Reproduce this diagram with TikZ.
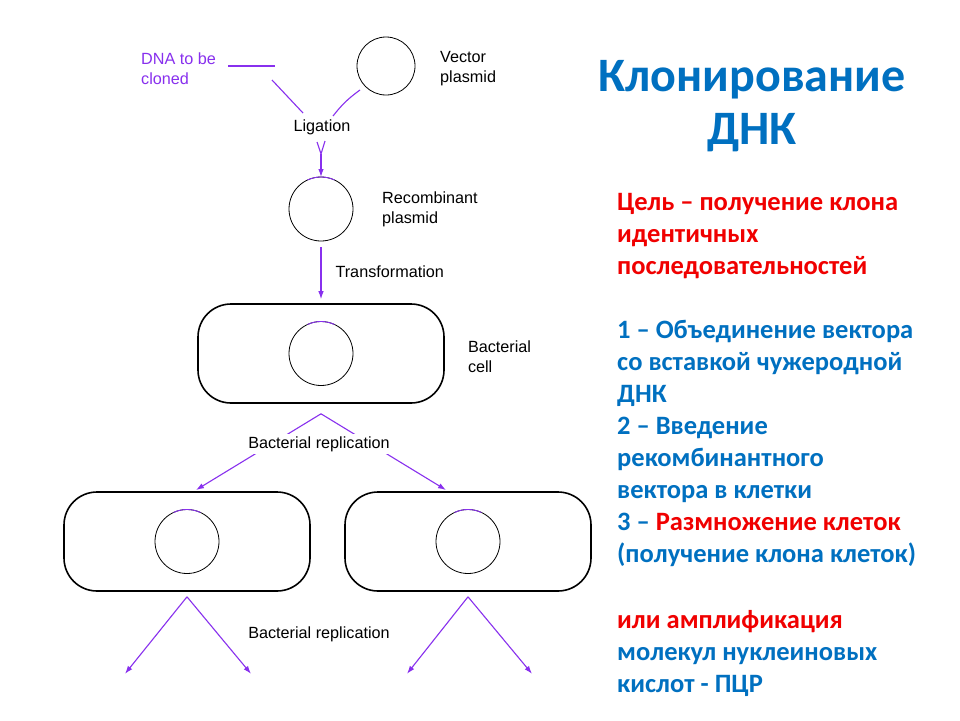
\documentclass[tikz,border=0pt]{standalone}
\usepackage{fontspec}
\setmainfont{Liberation Sans}
\newfontfamily\slidefont{Carlito}
\usepackage{xcolor}
\usetikzlibrary{shapes,arrows,positioning,calc,arrows.meta}

\definecolor{dnapurple}{RGB}{136,48,238}
\definecolor{slideblue}{RGB}{0,112,192}
\definecolor{slidered}{RGB}{240,0,0}

\begin{document}
\begin{tikzpicture}[x=1pt, y=1pt,
    plasmid/.style={circle, draw, line width=0.8pt, minimum size=64pt, inner sep=0pt, outer sep=0pt},
    cellbox/.style={rectangle, draw, line width=1.6pt, rounded corners=33pt, minimum width=246pt, minimum height=99pt},
    lbl/.style={font=\fontsize{16.2}{20}\selectfont, align=left, inner sep=2pt, text=black},
    link/.style={dnapurple, line width=1.1pt},
    arr/.style={dnapurple, line width=1.1pt, -{Latex[length=8pt,width=5.5pt]}},
    insert/.style={dnapurple, line width=0.9pt},
    slidetext/.style={font=\slidefont\bfseries\fontsize{26.5}{32}\selectfont, align=left, inner sep=0pt, text=slideblue}]
    \useasboundingbox (0,0) rectangle (960,-720);
    \fill[white] (0,0) rectangle (960,-720);
    \begin{scope}
        % Ligation step
        \node[lbl, text=dnapurple, anchor=west] (dna) at (139,-69) {DNA to be\\cloned};
        \coordinate (segL) at (228,-66);
        \coordinate (segR) at (275,-66);
        \node[plasmid, minimum size=58pt] (vector) at (386,-66) {};
        \node[lbl, right=23pt of vector, yshift=-3pt] (vectorlbl) {Vector\\plasmid};
        \node[lbl] (lig) at (322,-127) {Ligation};

        \coordinate (dnaout) at (272,-80);
        \coordinate (dnain) at (303,-113);
        \coordinate (vecout) at (360,-90);
        \coordinate (vecin) at (333,-116);
        \coordinate (ligL) at (317,-142);
        \coordinate (ligR) at (325,-141);
        \coordinate (ligJ) at (321,-154);

        \draw[link] (segL) -- (segR);
        \draw[link] (dnaout) -- (dnain);
        \draw[link] (vecout) to[bend right=8] (vecin);
        \draw[link] (ligL) -- (ligJ) -- (ligR);

        % Recombinant plasmid
        \node[plasmid] (recomb) at (321,-209) {};
        \draw[insert] (recomb.65) arc[start angle=65, end angle=115, radius=32pt];
        \node[lbl, right=27pt of recomb] (recomblbl) {Recombinant\\plasmid};
        \draw[arr] (ligJ) -- (recomb.north);

        % Transformation into the cell
        \node[cellbox] (cell) at (321,-353.5) {};
        \node[plasmid] (cellpl) at (cell.center) {};
        \draw[insert] (cellpl.65) arc[start angle=65, end angle=115, radius=32pt];
        \node[lbl, right=21pt of cell, yshift=-3pt] (celllbl) {Bacterial\\cell};
        \draw[arr, shorten <=6pt, shorten >=4pt] (recomb) -- (cell)
            node[midway, right=12pt, lbl] (transf) {Transformation};

        % First replication
        \node[cellbox] (left) at (187,-541.5) {};
        \node[cellbox] (right) at (468,-541.5) {};
        \node[plasmid] (leftpl) at (left.center) {};
        \node[plasmid] (rightpl) at (right.center) {};
        \draw[insert] (leftpl.65) arc[start angle=65, end angle=115, radius=32pt];
        \draw[insert] (rightpl.65) arc[start angle=65, end angle=115, radius=32pt];

        \coordinate (split) at ($(cell.south)+(0,-10)$);
        \coordinate (tipL) at (196,-490);
        \coordinate (tipR) at (446,-490);
        \draw[arr] (split) -- (tipL);
        \draw[arr] (split) -- (tipR);
        \node[lbl, fill=white] (rep1) at (319,-444) {Bacterial replication};

        % Second replication
        \coordinate (splitL) at ($(left.south)+(0,-5)$);
        \coordinate (splitR) at ($(right.south)+(0,-5)$);
        \coordinate (tipLL) at ($(splitL)+(-62,-77)$);
        \coordinate (tipLR) at ($(splitL)+(64,-77)$);
        \coordinate (tipRL) at ($(splitR)+(-61,-77)$);
        \coordinate (tipRR) at ($(splitR)+(64,-77)$);
        \draw[arr] (splitL) -- (tipLL);
        \draw[arr] (splitL) -- (tipLR);
        \draw[arr] (splitR) -- (tipRL);
        \draw[arr] (splitR) -- (tipRR);
        \node[lbl] (rep2) at (319,-634) {Bacterial replication};

        % Slide text
        \node[font=\slidefont\bfseries\fontsize{48}{53}\selectfont, text=slideblue, align=center] (title) at (752,-106) {Клонирование\\ДНК};
        \node[slidetext, text=slidered, anchor=north west] (goal) at (617,-193) {Цель – получение клона\\идентичных\\последовательностей};
        \node[slidetext, below=41pt of goal.south west, anchor=north west] (steps) {1 – Объединение вектора\\со вставкой чужеродной\\ДНК\\2 – Введение\\рекомбинантного\\вектора в клетки\\3 – \textcolor{slidered}{Размножение клеток}\\(получение клона клеток)};
        \node[slidetext, below=44pt of steps.south west, anchor=north west] (pcr) {\textcolor{slidered}{или амплификация}\\молекул нуклеиновых\\кислот - ПЦР};
    \end{scope}
\end{tikzpicture}
\end{document}
